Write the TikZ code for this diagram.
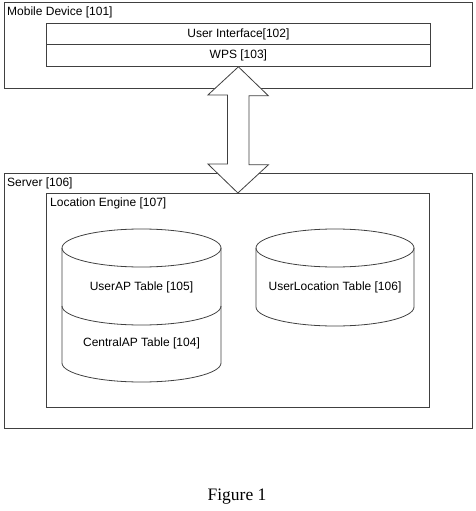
\documentclass[tikz,border=0pt]{standalone}
\usepackage{fontspec}
\setmainfont{Liberation Sans}
\newfontfamily\capfont{Liberation Serif}
\usetikzlibrary{calc,positioning}

\begin{document}
\begin{tikzpicture}[x=1pt,y=-1pt,
  outer box/.style={draw=black!75,line width=0.8pt,anchor=north west,inner sep=0pt,minimum width=468pt},
  inner box/.style={draw=black!75,line width=0.8pt,anchor=north west,inner sep=0pt},
  layer box/.style={draw=black!75,line width=0.8pt,inner sep=0pt,minimum width=384pt,minimum height=21.5pt,
    font=\fontsize{12}{14}\selectfont},
  title text/.style={anchor=west,inner sep=0pt,font=\fontsize{12}{14}\selectfont},
  table text/.style={inner sep=0pt,font=\fontsize{12}{14}\selectfont},
  table line/.style={draw=black!75,line width=0.8pt},
  big arrow/.style={draw=black!75,line width=0.8pt,fill=white,line join=miter}]

\useasboundingbox (0,0) rectangle (476,511);

\node[outer box,minimum height=86pt] (mobile) at (4,2) {};
\node[title text] (mobiletitle) at (7,12) {Mobile Device [101]};
\node[layer box,anchor=north west] (ui) at (46,23) {User Interface[102]};
\node[layer box,below=-0.8pt of ui] (wps) {WPS [103]};

\node[outer box,minimum height=255pt] (server) at (4,173) {};
\node[title text] (servertitle) at (7,183) {Server [106]};
\node[inner box,minimum width=383pt,minimum height=214pt] (engine) at (46,193) {};
\node[title text] (enginetitle) at (50,203) {Location Engine [107]};

% stacked tables on the left, single table on the right
\draw[table line] (141.5,248) ellipse [x radius=79.5pt,y radius=19pt];
\draw[table line] (62,248) -- (62,363) arc[start angle=180,end angle=360,x radius=79.5pt,y radius=19pt] -- (221,248);
\draw[table line] (62,306) arc[start angle=180,end angle=360,x radius=79.5pt,y radius=19pt];
\draw[table line] (335,248) ellipse [x radius=79pt,y radius=19pt];
\draw[table line] (256,248) -- (256,307) arc[start angle=180,end angle=360,x radius=79pt,y radius=19pt] -- (414,248);

\node[table text] (userap) at (141.5,287) {UserAP Table [105]};
\node[table text] (centralap) at (141.5,343) {CentralAP Table [104]};
\node[table text] (userloc) at (335,287) {UserLocation Table [106]};

\draw[big arrow] (wps.south) -- ++(30,29) -- ++(-19.5,0) -- ++(0,69) -- ++(19.5,0) -- (engine.north)
  -- ++(-30,-29) -- ++(19.5,0) -- ++(0,-69) -- ++(-19.5,0) -- cycle;

\node[inner sep=0pt,font=\capfont\fontsize{17.5}{20}\selectfont] (figlabel) at (237,497) {Figure 1};
\end{tikzpicture}
\end{document}
